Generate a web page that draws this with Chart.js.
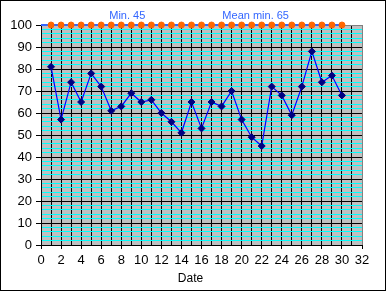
<!DOCTYPE html>
<html>
<head>
<meta charset="utf-8">
<script src="https://cdn.jsdelivr.net/npm/chart.js@4/dist/chart.umd.min.js"></script>
<style>
html,body{margin:0;padding:0;background:#fff;}
#wrap{position:relative;width:386px;height:291px;}
#frame{position:absolute;left:0;top:0;width:384px;height:289px;border:1px solid #000;pointer-events:none;}
</style>
</head>
<body>
<div id="wrap"><canvas id="c" width="386" height="291"></canvas><div id="frame"></div></div>
<script>
const dates = [1,2,3,4,5,6,7,8,9,10,11,12,13,14,15,16,17,18,19,20,21,22,23,24,25,26,27,28,29,30];
const minTemps = [81,57,74,65,78,72,61,63,69,65,66,60,56,51,65,53,65,63,70,57,49,45,72,68,59,72,88,74,77,68];
const topLineDates = [0,1,2,3,4,5,6,7,8,9,10,11,12,13,14,15,16,17,18,19,20,21,22,23,24,25,26,27,28,29,30];
const topLineValue = 100;
const xAxisTitle = 'Date';
const noteMin = 'Min. 45';
const noteMean = 'Mean min. 65';

const minSeries = dates.map((d,i)=>({x:d,y:minTemps[i]}));
const topSeries = topLineDates.map(d=>({x:d,y:topLineValue}));

const decor = {
  id:'decor',
  beforeDraw(chart){
    const {ctx, chartArea:a} = chart;
    ctx.save();
    ctx.fillStyle='#C0C0C0';
    ctx.fillRect(a.left,a.top,a.right-a.left,a.bottom-a.top);
    ctx.restore();
  },
  afterDraw(chart){
    const {ctx} = chart;
    const xs = chart.scales.x;
    ctx.save();
    ctx.fillStyle='#3366FF';
    ctx.font='11px "Liberation Sans", Arial, sans-serif';
    ctx.textAlign='center';
    ctx.textBaseline='middle';
    ctx.fillText(noteMin, xs.getPixelForValue(8.6), 15.5);
    ctx.fillText(noteMean, xs.getPixelForValue(21.4), 15.5);
    ctx.fillStyle='#000';
    ctx.font='12px "Liberation Sans", Arial, sans-serif';
    ctx.fillText(xAxisTitle, xs.getPixelForValue(14.9), 278.5);
    ctx.restore();
  }
};

new Chart(document.getElementById('c'), {
  type:'line',
  data:{
    datasets:[
      {
        data: topSeries,
        borderColor:'#3366FF',
        borderWidth:2,
        pointStyle:'circle',
        pointRadius: ctx => ctx.dataIndex===0 ? 0 : 3,
        pointBackgroundColor:'#FF6600',
        pointBorderColor:'#FF6600',
        pointBorderWidth:1,
        clip:false,
        order:2
      },
      {
        data: minSeries,
        borderColor:'#0000FF',
        borderWidth:1.2,
        pointStyle:'rectRot',
        pointRadius:3.5,
        pointBackgroundColor:'#000080',
        pointBorderColor:'#000080',
        pointBorderWidth:1,
        clip:false,
        order:1
      }
    ]
  },
  options:{
    responsive:false,
    animation:false,
    events:[],
    layout:{padding:{left:0,top:25,right:24,bottom:0}},
    plugins:{legend:{display:false},tooltip:{enabled:false}},
    scales:{
      x:{
        type:'linear',
        min:0,max:32,
        z:0,
        afterFit(s){ s.height = 46; },
        ticks:{
          stepSize:1,
          autoSkip:false,
          maxRotation:0,
          padding:4,
          color:'#000',
          font:{family:'"Liberation Sans", Arial, sans-serif', size:13},
          callback:v => (v%2===0 ? String(v) : '')
        },
        grid:{
          color: c => (c.tick && c.tick.value===32 ? '#808080' : '#000000'),
          lineWidth:1,
          tickLength:4,
          tickColor: c => (c.tick && c.tick.value%2===0 ? '#000000' : 'rgba(0,0,0,0)')
        },
        border:{display:true,color:'#000',width:1}
      },
      y:{
        type:'linear',
        min:0,max:100,
        z:-1,
        afterFit(s){ s.width = 41; },
        ticks:{
          stepSize:2,
          autoSkip:false,
          padding:4,
          color:'#000',
          font:{family:'"Liberation Sans", Arial, sans-serif', size:13},
          callback:v => (v%10===0 ? String(v) : '')
        },
        grid:{
          color: c => {
            const v = c.tick ? c.tick.value : 0;
            if (v===100) return '#808080';
            if (v%10===0) return '#000000';
            return '#00FFFF';
          },
          lineWidth:1,
          tickLength:5,
          tickColor: c => (c.tick && c.tick.value%10===0 ? '#000000' : 'rgba(0,0,0,0)')
        },
        border:{display:true,color:'#000',width:1}
      }
    }
  },
  plugins:[decor]
});
</script>
</body>
</html>
